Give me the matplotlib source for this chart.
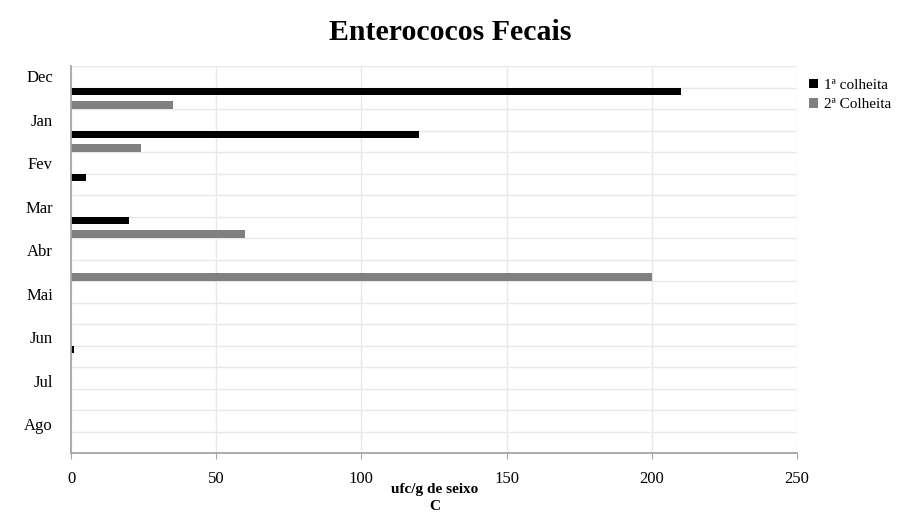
import matplotlib as mpl
mpl.use('Agg')

import numpy as np
import matplotlib.pyplot as plt

# months, top to bottom
months = ['Dec', 'Jan', 'Fev', 'Mar', 'Abr', 'Mai', 'Jun', 'Jul', 'Ago']
colheita_1 = [210, 120, 5, 20, 0, 0, 1, 0, 0]
colheita_2 = [35, 24, 0, 60, 200, 0, 0, 0, 0]
series_names = ['1ª colheita', '2ª Colheita']

plt.rcParams['font.family'] = ['Liberation Serif', 'DejaVu Serif']

fig = plt.figure(figsize=(8.97, 5.14), dpi=100)
ax = fig.add_axes([71 / 897, 61 / 514, 726 / 897, 387 / 514])

# each month takes two rows of the grid
n = len(months)
base = np.arange(n) * 2
h = 0.35
ax.barh(base + 1 + h / 2, colheita_1, height=h, color='#000000', label=series_names[0])
ax.barh(base + 2 - h / 2, colheita_2, height=h, color='#808080', label=series_names[1])

ax.set_ylim(2 * n, 0)
ax.set_xlim(0, 250)
ax.set_xticks([0, 50, 100, 150, 200, 250])

ax.set_yticks(np.arange(0, 2 * n + 1), minor=True)
ax.set_yticks(0.47 + 2.023 * np.arange(n))
ax.set_yticklabels(months)
ax.tick_params(axis='y', which='both', length=0, labelsize=12, pad=13)
ax.tick_params(axis='x', length=4, color='#a6a6a6', labelsize=12, pad=9)

ax.grid(which='minor', axis='y', color='#e8e8e8', lw=1)
ax.grid(which='major', axis='x', color='#e8e8e8', lw=1)
ax.set_axisbelow(True)

for side in ['top', 'right']:
    ax.spines[side].set_visible(False)
for side in ['left', 'bottom']:
    ax.spines[side].set_color('#a6a6a6')
    ax.spines[side].set_linewidth(1.3)

fig.text(450 / 897, 1 - 33 / 514, 'Enterococos Fecais', ha='center', va='center',
         fontsize=21.5, fontweight='bold')
fig.text(435 / 897, 1 - 489 / 514, 'ufc/g de seixo', ha='center', va='center',
         fontsize=11, fontweight='bold')
fig.text(435 / 897, 1 - 507 / 514, 'C', ha='center', va='center',
         fontsize=11, fontweight='bold')

ax.legend(loc='upper left', bbox_to_anchor=(1.012, 0.975), frameon=False, fontsize=11,
          handlelength=0.6, handleheight=0.6, handletextpad=0.4, labelspacing=0.4,
          borderaxespad=0, borderpad=0.2)

plt.savefig('out.png', dpi=100)
